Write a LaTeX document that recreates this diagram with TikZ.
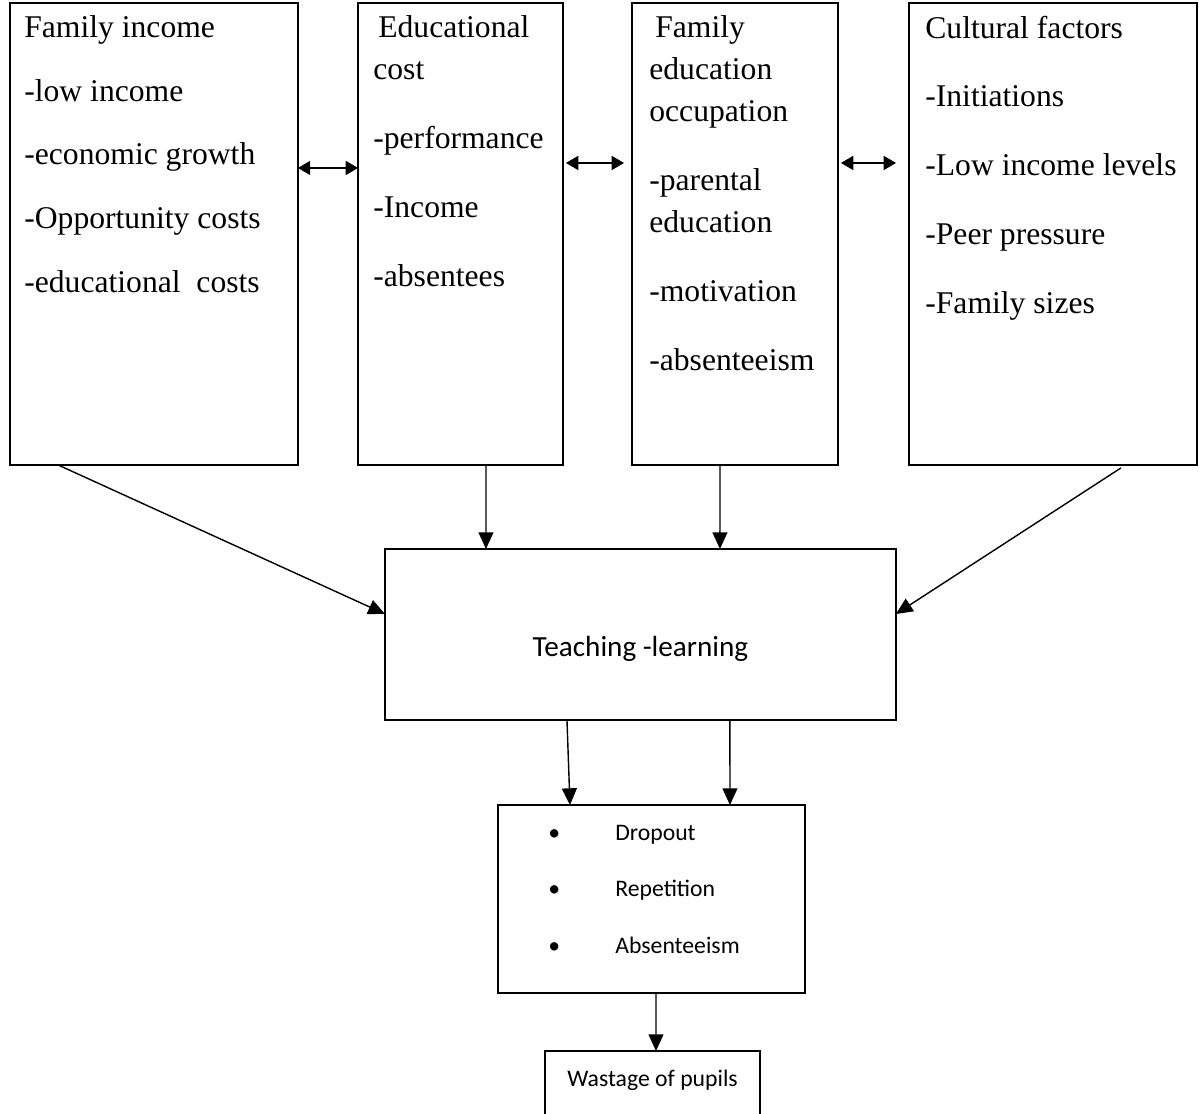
\documentclass[tikz,border=0pt]{standalone}
\usepackage{fontspec}
\setmainfont{Liberation Serif}
\newfontfamily\calfont{Carlito}
\usetikzlibrary{arrows.meta, positioning}
\tikzset{
  factor/.style={rectangle, draw, line width=1.1pt, anchor=north west,
                 inner sep=0pt, outer sep=0pt, minimum height=9.24cm},
  lowbox/.style={rectangle, draw, line width=0.7pt, anchor=north west,
                 inner sep=0pt, outer sep=0pt},
  factxt/.style={anchor=north west, inner sep=0pt, align=left,
                 font=\fontsize{18}{23.9}\selectfont},
  caltxt/.style={inner sep=0pt, font=\calfont\fontsize{#1}{#1}\selectfont},
  caltxt/.default=13.5,
  arr/.style={-{Triangle[length=9.5pt, width=8.5pt]}, line width=0.8pt},
  darr/.style={{Triangle[length=7pt, width=8pt]}-{Triangle[length=7pt, width=8pt]},
               line width=0.8pt},
}
\begin{document}
\begin{tikzpicture}[x=0.02cm, y=-0.02cm]
  \useasboundingbox (0,0) rectangle (1200,1114);
  \clip (0,0) rectangle (1200,1114);

  % Factor boxes — top row
  \node[factor, minimum width=5.76cm] (income) at (10,3) {};
  \node[factor, minimum width=4.1cm] (cost) at (358,3) {};
  \node[factor, minimum width=4.12cm] (famedu) at (632,3) {};
  \node[factor, minimum width=5.76cm] (culture) at (909,3) {};

  \node[factxt] (incometxt) at ([shift={(0.28cm,-0.25cm)}]income.north west)
    {Family income\\[12.3pt]
     -low income\\[12.3pt]
     -economic growth\\[12.3pt]
     -Opportunity costs\\[12.3pt]
     -educational\ \ costs};
  \node[factxt] (costtxt) at ([shift={(0.3cm,-0.25cm)}]cost.north west)
    {\hspace*{0.1cm}Educational\\
     cost\\[15.3pt]
     -performance\\[15.3pt]
     -Income\\[15.3pt]
     -absentees};
  \node[factxt] (famedutxt) at ([shift={(0.34cm,-0.25cm)}]famedu.north west)
    {\hspace*{0.12cm}Family\\
     education\\
     occupation\\[15.3pt]
     -parental\\
     education\\[15.3pt]
     -motivation\\[15.3pt]
     -absenteeism};
  \node[factxt] (culturetxt) at ([shift={(0.32cm,-0.25cm)}]culture.north west)
    {Cultural factors\\[15.3pt]
     -Initiations\\[15.3pt]
     -Low income levels\\[15.3pt]
     -Peer pressure\\[15.3pt]
     -Family sizes};

  % Teaching box and outcomes
  \node[lowbox, minimum width=10.22cm, minimum height=3.42cm] (teach) at (385,549) {};
  \node[caltxt=16.6, anchor=base] (teachtxt) at ([yshift=1.26cm]teach.south) {Teaching -learning};

  \node[lowbox, minimum width=6.14cm, minimum height=3.76cm] (waste) at (498,805) {};
  \node[caltxt, anchor=north west, align=left, font=\calfont\fontsize{13.5}{32.4}\selectfont]
    (wastetxt) at ([shift={(1.0cm,-0.39cm)}]waste.north west)
    {\makebox[1.34cm][l]{\textbullet}Dropout\\
     \makebox[1.34cm][l]{\textbullet}Repetition\\
     \makebox[1.34cm][l]{\textbullet}Absenteeism};

  \node[lowbox, minimum width=4.3cm, minimum height=1.8cm] (pupils) at (545,1051) {};
  \node[caltxt, anchor=base west] (pupilstxt) at ([shift={(0.44cm,-0.72cm)}]pupils.north west)
    {Wastage of pupils};

  % Arrows
  \draw[darr] ([yshift=-3.3cm]income.north east) -- ([yshift=-3.3cm]cost.north west);
  \draw[darr] ([shift={(0.06cm,-3.2cm)}]cost.north east) -- ([shift={(-0.16cm,-3.2cm)}]famedu.north west);
  \draw[darr] ([shift={(0.06cm,-3.2cm)}]famedu.north east) -- ([shift={(-0.26cm,-3.2cm)}]culture.north west);

  \draw[arr] ([xshift=0.96cm]income.south west) -- ([yshift=-1.3cm]teach.north west);
  \draw[arr] ([xshift=2.56cm]cost.south west) -- ([xshift=2.02cm]teach.north west);
  \draw[arr] ([xshift=1.76cm]famedu.south west) -- ([xshift=6.7cm]teach.north west);
  \draw[arr] ([shift={(-1.52cm,-0.06cm)}]culture.south east) -- ([yshift=-1.3cm]teach.north east);

  \draw[arr] ([xshift=3.64cm]teach.south west) -- ([xshift=1.44cm]waste.north west);
  \draw[arr] ([xshift=6.9cm]teach.south west) -- ([xshift=4.64cm]waste.north west);
  \draw[arr] ([xshift=3.16cm]waste.south west) -- ([xshift=2.22cm]pupils.north west);
\end{tikzpicture}
\end{document}
